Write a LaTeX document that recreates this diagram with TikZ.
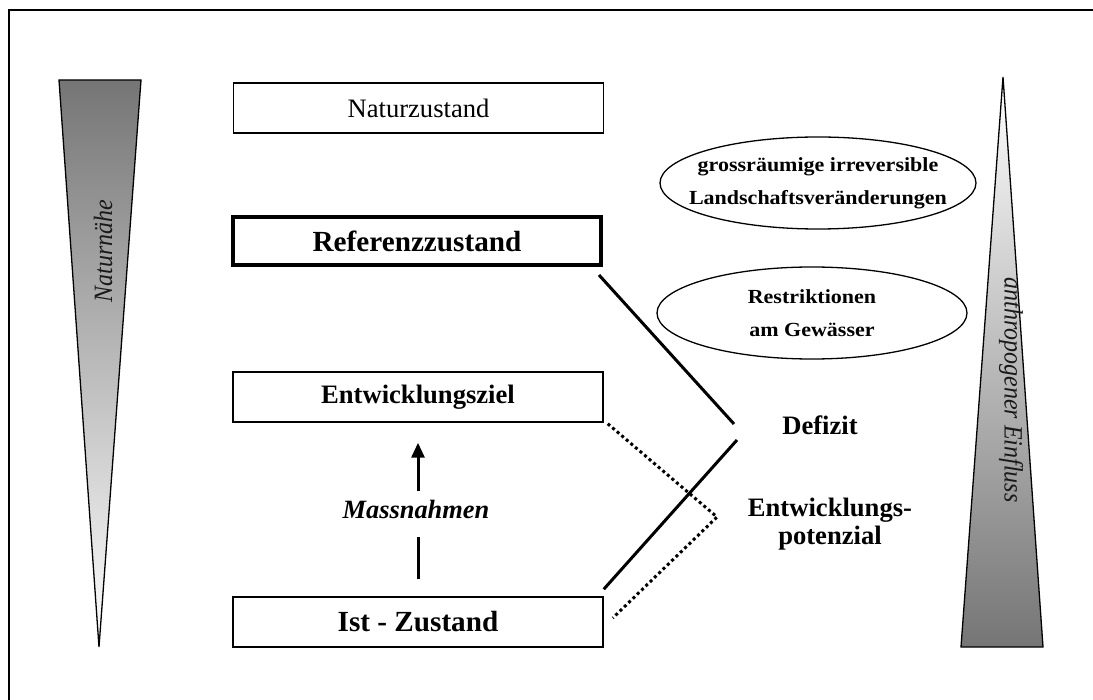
\documentclass[tikz,border=0pt]{standalone}
\usepackage{fontspec}
\setmainfont{Liberation Serif}
\usetikzlibrary{arrows.meta,shapes.geometric}
\newcommand{\widetxt}[1]{\scalebox{1.1}[1]{#1}}
\begin{document}
\begin{tikzpicture}[x=1pt,y=-1pt,
  box/.style={draw, line width=1.5pt, minimum width=370pt, minimum height=50pt, inner sep=0pt, anchor=center},
  bigfont/.style={font=\fontsize{26.6}{30}\selectfont},
  hugefont/.style={font=\fontsize{29.2}{32}\selectfont\bfseries},
  ell/.style={draw, line width=1.3pt, ellipse, inner sep=0pt},
  elltext/.style={inner sep=0pt, align=center, font=\fontsize{20}{33}\selectfont\bfseries},
  solid line/.style={line width=3pt},
  dotline/.style={line width=3pt, dash pattern=on 3pt off 3pt},
  lbl/.style={inner sep=0pt, align=center, font=\fontsize{26.6}{28}\selectfont\bfseries}]
\useasboundingbox (0,0) rectangle (1093,700);
\clip (0,0) rectangle (1093,700);
% frame
\draw[line width=1.8pt] (9,720) -- (9,10) -- (1110,10);
% left wedge
\shade[top color=black!54, bottom color=white] (59,80) -- (141,80) -- (99,647) -- cycle;
\draw[line width=1.3pt, line join=miter] (59,80) -- (141,80) -- (99,647) -- cycle;
\node[rotate=90, inner sep=0pt, text=black!90, font=\fontsize{24}{26}\selectfont\itshape] (nat) at (103,251) {\scalebox{1}[1.1]{Naturnähe}};
% right wedge
\shade[top color=white, bottom color=black!54] (1003,77) -- (1043,647) -- (961,647) -- cycle;
\draw[line width=1.3pt, line join=miter] (1003,77) -- (1043,647) -- (961,647) -- cycle;
\node[rotate=-90, inner sep=0pt, text=black!90, font=\fontsize{24}{26}\selectfont\itshape] (anth) at (1011,390) {\scalebox{1}[1.1]{anthropogener Einfluss}};
% boxes
\node[box, bigfont] (natz) at (418.5,108) {Naturzustand};
\node[box, hugefont, line width=4pt, minimum width=368pt, minimum height=48pt] (ref) at (417,241) {Referenzzustand};
\node[box, bigfont, font=\fontsize{26.6}{30}\selectfont\bfseries] (ent) at (418,397) {Entwicklungsziel};
\node[box, hugefont] (ist) at (418,622) {Ist - Zustand};
% Massnahmen
\node[inner sep=0pt, font=\fontsize{26.4}{30}\selectfont\bfseries\itshape] (mass) at (416,509) {Massnahmen};
\draw[solid line] ([yshift=17pt]ist.north) -- ++(0,-42);
\draw[solid line, -{Triangle[length=15pt,width=13pt]}] ([yshift=-68pt]ent.south) -- ([yshift=-20pt]ent.south);
% ellipses
\node[ell, minimum width=316pt, minimum height=92pt] (gross) at (818,183) {};
\node[elltext] (grosst) at (gross.center) {\widetxt{grossräumige irreversible}\\\widetxt{Landschaftsveränderungen}};
\node[ell, minimum width=310pt, minimum height=92pt] (restr) at (812,313) {};
\node[elltext] (restrt) at (restr.center) {\widetxt{Restriktionen}\\\widetxt{am Gewässer}};
% labels
\node[lbl] (def) at (820,425) {Defizit};
\node[lbl] (pot) at (830,524) {Entwicklungs-\\potenzial};
% connectors
\coordinate (d1) at (734,424);
\coordinate (d2) at (737,440);
\coordinate (p) at (717,517);
\draw[solid line] ([shift={(-4pt,-8pt)}]ref.south east) -- (d1);
\draw[solid line] (d2) -- ([shift={(0pt,7pt)}]ist.north east);
\draw[dotline] ([shift={(4pt,-1pt)}]ent.south east) -- (p) -- ([shift={(9pt,4pt)}]ist.east);
\end{tikzpicture}
\end{document}
